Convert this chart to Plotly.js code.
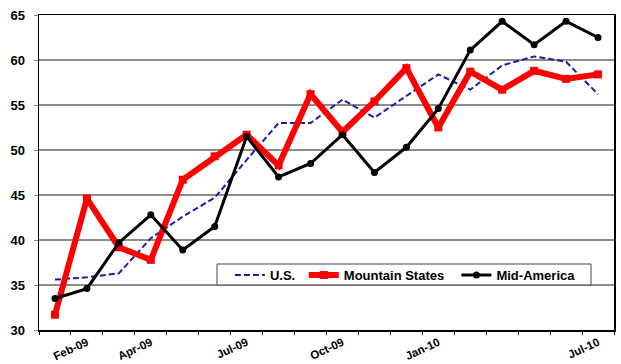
<!DOCTYPE html>
<html>
<head>
<meta charset="utf-8">
<script src="https://cdn.plot.ly/plotly-3.0.1.min.js"></script>
<style>
html,body{margin:0;padding:0;background:#fff;}
#chart{width:621px;height:364px;}
</style>
</head>
<body>
<div id="chart"></div>
<script>
// period index (monthly points)
var periods = [0, 1, 2, 3, 4, 5, 6, 7, 8, 9, 10, 11, 12, 13, 14, 15, 16, 17];
var tickPositions = [1, 3, 6, 9, 12, 17];
var tickLabels = ['Feb-09', 'Apr-09', 'Jul-09', 'Oct-09', 'Jan-10', 'Jul-10'];
var boundaryTicks = [-0.5, 0.5, 1.5, 2.5, 3.5, 4.5, 5.5, 6.5, 7.5, 8.5, 9.5, 10.5, 11.5, 12.5, 13.5, 14.5, 15.5, 16.5, 17.5];
var seriesNames = ['U.S.', 'Mountain States', 'Mid-America'];

var usValues = [35.6, 35.85, 36.3, 40.2, 42.6, 44.7, 48.9, 53.0, 53.0, 55.6, 53.6, 56.0, 58.4, 56.7, 59.4, 60.4, 59.8, 56.2];
var mountainValues = [31.7, 44.6, 39.2, 37.8, 46.7, 49.3, 51.7, 48.3, 56.2, 52.0, 55.4, 59.1, 52.5, 58.7, 56.7, 58.8, 57.9, 58.4];
var midAmericaValues = [33.5, 34.6, 39.7, 42.8, 38.9, 41.5, 51.5, 47.0, 48.5, 51.7, 47.5, 50.3, 54.6, 61.1, 64.3, 61.7, 64.3, 62.5];

var FONT = 'Liberation Sans, Arial, sans-serif';

var traces = [
  {
    x: periods, y: usValues, name: seriesNames[0] + '\u00A0', type: 'scatter', mode: 'lines',
    line: {color: '#1c1ca8', width: 2, dash: '6px,3px'}
  },
  {
    x: periods, y: mountainValues, name: seriesNames[1] + '\u00A0\u00A0', type: 'scatter', mode: 'lines+markers',
    line: {color: '#ff0000', width: 6},
    marker: {symbol: 'square', size: 8, color: '#ff0000'}
  },
  {
    x: periods, y: midAmericaValues, name: seriesNames[2], type: 'scatter', mode: 'lines+markers',
    line: {color: '#000000', width: 3},
    marker: {symbol: 'circle', size: 7, color: '#000000'}
  },
  {
    x: [periods[0]], y: [null], xaxis: 'x2', yaxis: 'y', showlegend: false, hoverinfo: 'skip',
    type: 'scatter', mode: 'lines'
  }
];

var layout = {
  width: 621, height: 364,
  margin: {l: 39, r: 7, t: 15, b: 34},
  paper_bgcolor: '#ffffff', plot_bgcolor: '#ffffff',
  showlegend: true,
  font: {family: FONT, color: '#000', size: 12},
  xaxis: {
    type: 'linear', range: [-0.5, 17.5],
    tickmode: 'array', tickvals: tickPositions, ticktext: tickLabels,
    ticks: '', tickangle: -25,
    tickfont: {family: FONT, size: 11.5, weight: 'bold', color: '#000'},
    showgrid: false, zeroline: false,
    showline: true, linecolor: '#000', linewidth: 1.5, mirror: true
  },
  xaxis2: {
    overlaying: 'x', anchor: 'y', side: 'bottom', type: 'linear', range: [-0.5, 17.5],
    tickmode: 'array', tickvals: boundaryTicks,
    ticks: 'outside', ticklen: 4, tickwidth: 1, tickcolor: '#000',
    showticklabels: false, showgrid: false, zeroline: false, showline: false
  },
  yaxis: {
    range: [30, 65], tickmode: 'linear', tick0: 30, dtick: 5,
    ticks: 'outside', ticklen: 4, tickcolor: '#888',
    tickfont: {family: FONT, size: 13, weight: 'bold', color: '#000'},
    ticklabelstandoff: 6,
    showgrid: true, gridcolor: '#8c8c8c', gridwidth: 1.5,
    zeroline: false,
    showline: true, linecolor: '#000', linewidth: 1.5, mirror: true
  },
  shapes: [{
    type: 'rect', xref: 'paper', yref: 'paper', layer: 'above',
    x0: 0.3096, x1: 0.96, y0: 0.143, y1: 0.2095,
    fillcolor: '#ffffff', line: {color: '#444', width: 1}
  }],
  legend: {
    orientation: 'h', x: 0.332, xanchor: 'left', y: 0.222, yanchor: 'top',
    bgcolor: 'rgba(0,0,0,0)', borderwidth: 0,
    font: {family: FONT, size: 13, weight: 'bold', color: '#000'},
    itemwidth: 30, tracegroupgap: 0
  }
};

Plotly.newPlot('chart', traces, layout, {displayModeBar: false, staticPlot: true});
</script>
</body>
</html>
